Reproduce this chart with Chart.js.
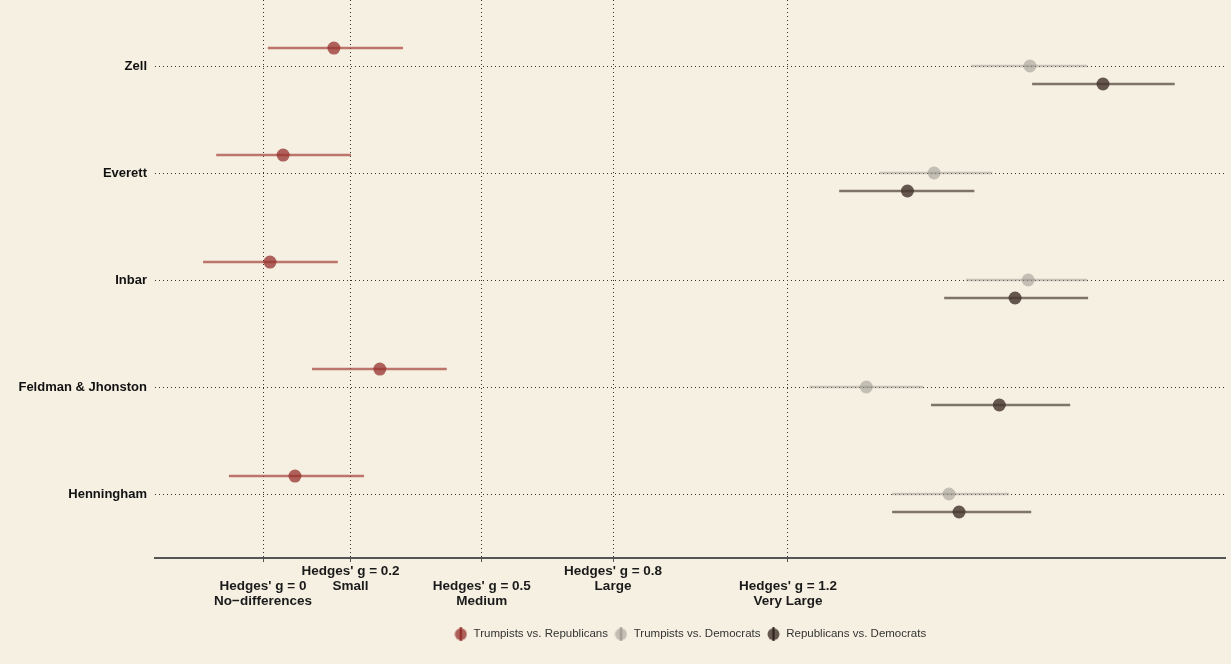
<!DOCTYPE html>
<html>
<head>
<meta charset="utf-8">
<script src="https://cdn.jsdelivr.net/npm/chart.js@4"></script>
<style>
  html, body { margin: 0; padding: 0; background: #F6F0E2; }
  #wrap { width: 1231px; height: 664px; }
</style>
</head>
<body>
<div id="wrap"><canvas id="grafico" width="1231" height="664"></canvas></div>
<script>
// estudos (de cima para baixo)
const estudos = ['Zell', 'Everett', 'Inbar', 'Feldman & Jhonston', 'Henningham'];
const posEstudos = [5, 4, 3, 2, 1];

// Trumpists vs. Republicans
const trRepG  = [0.162, 0.046, 0.016, 0.267, 0.073];
const trRepLo = [0.011, -0.107, -0.137, 0.112, -0.078];
const trRepHi = [0.320, 0.201, 0.171, 0.420, 0.231];

// Trumpists vs. Democrats
const trDemG  = [1.753, 1.534, 1.749, 1.379, 1.568];
const trDemLo = [1.619, 1.409, 1.607, 1.249, 1.438];
const trDemHi = [1.884, 1.667, 1.884, 1.509, 1.705];

// Republicans vs. Democrats
const repDemG  = [1.920, 1.473, 1.719, 1.683, 1.591];
const repDemLo = [1.758, 1.317, 1.557, 1.527, 1.438];
const repDemHi = [2.084, 1.626, 1.886, 1.845, 1.756];

// marcas do eixo x
const gTicks = [0, 0.2, 0.5, 0.8, 1.2];
const gNomes = ['No\u2212differences', 'Small', 'Medium', 'Large', 'Very Large'];

const deslocamento = 0.168;

function montarPontos(valores, desl) {
  return valores.map(function(v, i) {
    return { x: v, y: posEstudos[i] + desl };
  });
}

function marcadorLegenda(corPonto, corLinha) {
  const c = document.createElement('canvas');
  c.width = 13;
  c.height = 14;
  const ctx = c.getContext('2d');
  ctx.fillStyle = corPonto;
  ctx.beginPath();
  ctx.arc(6.5, 7, 6, 0, Math.PI * 2);
  ctx.fill();
  ctx.strokeStyle = corLinha;
  ctx.lineWidth = 2;
  ctx.beginPath();
  ctx.moveTo(6.5, 0);
  ctx.lineTo(6.5, 14);
  ctx.stroke();
  return c;
}

const series = [
  {
    label: 'Trumpists vs. Republicans',
    g: trRepG, lo: trRepLo, hi: trRepHi, desl: deslocamento,
    ponto: 'rgba(150,48,44,0.75)', linha: 'rgba(165,62,57,0.7)', marcaLinha: 'rgba(140,30,30,0.9)'
  },
  {
    label: 'Trumpists vs. Democrats',
    g: trDemG, lo: trDemLo, hi: trDemHi, desl: 0,
    ponto: 'rgba(150,145,138,0.52)', linha: 'rgba(150,145,138,0.48)', marcaLinha: 'rgba(140,135,128,0.75)'
  },
  {
    label: 'Republicans vs. Democrats',
    g: repDemG, lo: repDemLo, hi: repDemHi, desl: -deslocamento,
    ponto: 'rgba(68,52,45,0.82)', linha: 'rgba(80,68,60,0.72)', marcaLinha: 'rgba(40,30,25,0.9)'
  }
];

const barrasErro = {
  id: 'barrasErro',
  beforeDatasetsDraw: function(chart) {
    const ctx = chart.ctx;
    const sx = chart.scales.x;
    const sy = chart.scales.y;
    ctx.save();
    series.forEach(function(s) {
      ctx.strokeStyle = s.linha;
      ctx.lineWidth = 2.5;
      s.lo.forEach(function(lo, i) {
        const y = sy.getPixelForValue(posEstudos[i] + s.desl);
        ctx.beginPath();
        ctx.moveTo(sx.getPixelForValue(lo), y);
        ctx.lineTo(sx.getPixelForValue(s.hi[i]), y);
        ctx.stroke();
      });
    });
    ctx.restore();
  }
};

new Chart(document.getElementById('grafico').getContext('2d'), {
  type: 'scatter',
  data: {
    datasets: series.map(function(s) {
      return {
        label: s.label,
        data: montarPontos(s.g, s.desl),
        backgroundColor: s.ponto,
        borderWidth: 0,
        pointRadius: 6.5,
        pointStyle: 'circle'
      };
    })
  },
  options: {
    responsive: false,
    animation: false,
    layout: {
      autoPadding: false,
      padding: { left: 0, right: 6, top: 0, bottom: 14 }
    },
    plugins: {
      tooltip: { enabled: false },
      legend: {
        position: 'bottom',
        fullSize: false,
        labels: {
          usePointStyle: true,
          pointStyleWidth: 14,
          padding: 6,
          color: '#333',
          font: { family: 'Liberation Sans, Arial, sans-serif', size: 11.5 },
          generateLabels: function(chart) {
            return series.map(function(s, i) {
              return {
                text: s.label,
                pointStyle: marcadorLegenda(s.ponto, s.marcaLinha),
                fillStyle: s.ponto,
                strokeStyle: s.ponto,
                lineWidth: 0,
                hidden: false,
                datasetIndex: i,
                fontColor: '#333'
              };
            });
          }
        }
      }
    },
    scales: {
      x: {
        type: 'linear',
        min: -0.2469,
        max: 2.1989,
        afterBuildTicks: function(scale) {
          scale.ticks = gTicks.map(function(v) { return { value: v }; });
        },
        afterFit: function(scale) {
          scale.height = 64.5;
          scale.paddingLeft = 0;
          scale.paddingRight = 0;
        },
        grid: {
          color: '#333',
          lineWidth: 1,
          drawTicks: true,
          tickLength: 4,
          tickColor: '#555',
          tickWidth: 1,
          tickBorderDash: []
        },
        border: { display: true, color: '#555', width: 2, dash: [1, 3] },
        ticks: {
          autoSkip: false,
          maxRotation: 0,
          padding: 2,
          color: '#1a1a1a',
          font: { family: 'Liberation Sans, Arial, sans-serif', size: 13.5, weight: 'bold', lineHeight: '15px' },
          callback: function(value, index) {
            const titulo = "Hedges' g = " + gTicks[index];
            if (index % 2 === 1) {
              return [titulo, gNomes[index]];
            }
            return [' ', titulo, gNomes[index]];
          }
        }
      },
      y: {
        type: 'linear',
        min: 0.402,
        max: 5.617,
        afterBuildTicks: function(scale) {
          scale.ticks = posEstudos.map(function(v) { return { value: v }; });
        },
        afterFit: function(scale) {
          scale.width = 155;
          scale.paddingTop = 0;
          scale.paddingBottom = 0;
        },
        grid: {
          color: '#333',
          lineWidth: 1,
          drawTicks: false
        },
        border: { display: false, dash: [1, 3] },
        ticks: {
          autoSkip: false,
          padding: 8,
          color: '#111',
          font: { family: 'Liberation Sans, Arial, sans-serif', size: 13, weight: 'bold' },
          callback: function(value) {
            const i = posEstudos.indexOf(value);
            return i >= 0 ? estudos[i] : '';
          }
        }
      }
    }
  },
  plugins: [barrasErro]
});
</script>
</body>
</html>
